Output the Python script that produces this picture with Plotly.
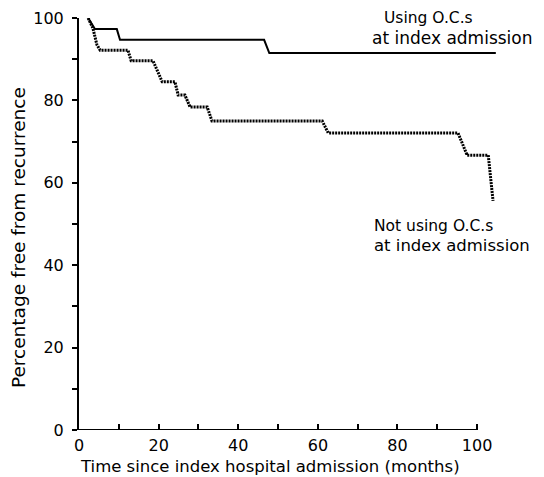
import plotly.graph_objects as go

# Data
oc_months = [2.3, 4.0, 9.5, 10.3, 46.5, 47.8, 104.7]
oc_pct = [100, 97.3, 97.3, 94.7, 94.7, 91.5, 91.5]

no_oc_months = [2.3, 3.5, 4.5, 5.3, 12.3, 13.1, 18.6, 20.9, 24.1, 24.9, 26.6, 27.9,
                32.2, 33.4, 61.1, 62.6, 95.2, 97.5, 102.8, 104.0]
no_oc_pct = [100, 97.5, 93.5, 92.2, 92.2, 89.6, 89.6, 84.5, 84.5, 81.3, 81.3, 78.4,
             78.4, 75.0, 75.0, 72.1, 72.1, 66.7, 66.7, 55.6]

x_tick_vals = [0, 10, 20, 30, 40, 50, 60, 70, 80, 90, 100]
x_tick_text = ["0", "", "20", "", "40", "", "60", "", "80", "", "100"]
y_tick_vals = [0, 10, 20, 30, 40, 50, 60, 70, 80, 90, 100]
y_tick_text = ["0", "", "20", "", "40", "", "60", "", "80", "", "100"]

FONT = "DejaVu Sans"

fig = go.Figure()
fig.add_trace(go.Scatter(x=oc_months, y=oc_pct, mode="lines",
                         line=dict(color="black", width=2), cliponaxis=False,
                         name="Using O.C.s at index admission"))
fig.add_trace(go.Scatter(x=no_oc_months, y=no_oc_pct, mode="lines",
                         line=dict(color="black", width=3, dash="2px,1px"), cliponaxis=False,
                         name="Not using O.C.s at index admission"))

# x axis line only from 0 to 100
fig.add_shape(type="line", xref="x", yref="y", x0=0, x1=100, y0=0, y1=0,
              line=dict(color="black", width=2))

fig.update_layout(
    width=536, height=469,
    margin=dict(l=71, r=43, t=10, b=47, autoexpand=False),
    paper_bgcolor="white", plot_bgcolor="white",
    showlegend=False,
    font=dict(family=FONT, color="black", size=16),
    xaxis=dict(range=[0, 106], showgrid=False, zeroline=False, showline=False,
               automargin=False,
               tickmode="array", tickvals=x_tick_vals, ticktext=x_tick_text,
               ticks="inside", ticklen=6, tickwidth=2, tickcolor="black",
               ticklabelstandoff=4,
               tickfont=dict(size=16, family=FONT)),
    yaxis=dict(range=[0, 100], showgrid=False, zeroline=False, showline=True,
               automargin=False,
               linecolor="black", linewidth=2,
               tickmode="array", tickvals=y_tick_vals, ticktext=y_tick_text,
               ticks="outside", ticklen=5, tickwidth=2, tickcolor="black",
               ticklabelstandoff=5,
               tickfont=dict(size=16, family=FONT)),
    annotations=[
        dict(text="Using O.C.s", x=76.1, y=0.9988, xref="x", yref="paper",
             xanchor="left", yanchor="middle", showarrow=False,
             font=dict(size=15.5, family=FONT)),
        dict(text="at index admission", x=73.1, y=0.951, xref="x", yref="paper",
             xanchor="left", yanchor="middle", showarrow=False,
             font=dict(size=17, family=FONT)),
        dict(text="Not using O.C.s", x=73.6, y=49.5, xref="x", yref="y",
             xanchor="left", yanchor="middle", showarrow=False,
             font=dict(size=15.5, family=FONT)),
        dict(text="at index admission", x=73.6, y=44.9, xref="x", yref="y",
             xanchor="left", yanchor="middle", showarrow=False,
             font=dict(size=16.5, family=FONT)),
        dict(text="Percentage free from recurrence", x=-0.1445, y=0.466,
             xref="paper", yref="paper", textangle=-90,
             xanchor="center", yanchor="middle", showarrow=False,
             font=dict(size=18.5, family=FONT)),
        dict(text="Time since index hospital admission (months)", x=0.4526, y=-0.0874,
             xref="paper", yref="paper",
             xanchor="center", yanchor="middle", showarrow=False,
             font=dict(size=16.5, family=FONT)),
    ],
)

fig.write_html("out.html")
